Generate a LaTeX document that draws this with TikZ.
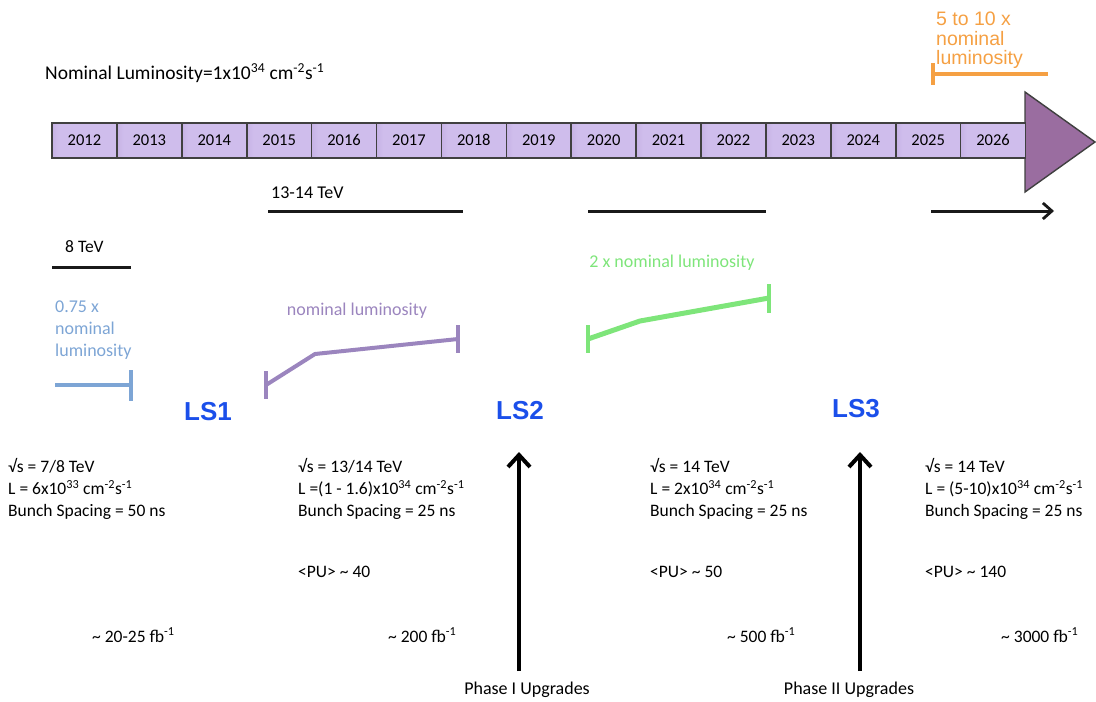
\documentclass[tikz,border=0pt]{standalone}
\usepackage{fontspec}
\setmainfont{Carlito}
\newfontfamily\arialfont{Liberation Sans}
\usetikzlibrary{arrows.meta}

\definecolor{boxlight}{HTML}{CFBDEC}
\definecolor{boxdark}{HTML}{9C7EC2}
\definecolor{headfill}{HTML}{9A6DA0}
\definecolor{orangelum}{HTML}{F5A043}
\definecolor{bluelum}{HTML}{7DA5D5}
\definecolor{purplelum}{HTML}{9B85BE}
\definecolor{greenlum}{HTML}{7EE57A}
\definecolor{lsblue}{HTML}{1B4FEA}

\pgfdeclarehorizontalshading{yearshade}{100bp}{color(0bp)=(boxdark); color(30bp)=(boxlight); color(100bp)=(boxlight)}

\tikzset{
  yearbox/.style={draw=black!75, line width=1.6pt, shading=yearshade,
    minimum width=64.9pt, minimum height=35pt, inner sep=0pt, outer sep=0pt,
    text height=10.6pt, text depth=0pt,
    anchor=west, font=\fontsize{16.5}{18}\selectfont},
  info/.style={anchor=north west, align=left, inner sep=0pt,
    font=\fontsize{17.5}{22}\selectfont},
  plain/.style={inner sep=0pt, font=\fontsize{17.5}{22}\selectfont},
  lslabel/.style={inner sep=0pt, text=lsblue, font=\arialfont\bfseries\fontsize{26}{30}\selectfont},
  lumlabel/.style={inner sep=0pt, align=left, font=\fontsize{18}{22}\selectfont},
  energy/.style={line width=3pt, black!90},
  lumbar/.style={line width=4pt, line join=round},
  upgrade/.style={line width=4.5pt, -{Straight Barb[length=12pt,width=22pt,line width=4pt]}},
}

\begin{document}
\begin{tikzpicture}[x=1pt,y=-1pt]
\useasboundingbox (0,0) rectangle (1096,702);

% headline
\node[plain, anchor=west, font=\fontsize{19.5}{22}\selectfont] (nominal) at (45,73)
  {Nominal Luminosity=1x10\textsuperscript{34} cm\textsuperscript{-2}s\textsuperscript{-1}};

% timeline arrow head
\draw[draw=black!75, line width=1.4pt, fill=headfill] (1025,92) -- (1095,142) -- (1025,192) -- cycle;

% year boxes
\foreach \yr [count=\i from 0] in {2012,...,2026} {
  \node[yearbox] (y\yr) at ({52+64.9*\i},140.5) {\yr};
}

% upper-right 5-10x nominal luminosity
\node[lumlabel, anchor=north west, text=orangelum, font=\arialfont\fontsize{19.5}{19.5}\selectfont] (lum510) at (936,12)
  {5 to 10 x\\nominal\\luminosity};
\draw[lumbar, orangelum] (933,74) -- (1048,74);
\draw[lumbar, orangelum] (933,63) -- (933,85);

% beam energy lines
\node[plain, anchor=west, font=\fontsize{18}{20}\selectfont] (e1314) at (271,193) {13-14 TeV};
\draw[energy] (268,211) -- (463,211);
\draw[energy] (588,211) -- (766,211);
\draw[energy, -{Straight Barb[length=9pt,width=16pt,line width=2.8pt]}] (931,211) -- (1054,211);
\node[plain, anchor=west, font=\fontsize{17.5}{20}\selectfont] (e8) at (65,247) {8 TeV};
\draw[energy] (52,267) -- (131,267);

% 0.75x nominal luminosity
\node[lumlabel, anchor=north west, text=bluelum] (lum075) at (55,301)
  {0.75 x\\nominal\\luminosity};
\draw[lumbar, bluelum] (55,385) -- (131,385);
\draw[lumbar, bluelum] (131,370) -- (131,401);

% nominal luminosity
\node[lumlabel, text=purplelum] (lum1) at (357,311) {nominal luminosity};
\draw[lumbar, purplelum] (266,385) -- (315,354) -- (458,339);
\draw[lumbar, purplelum] (266,371) -- (266,399);
\draw[lumbar, purplelum] (458,325) -- (458,353);

% 2x nominal luminosity
\node[lumlabel, text=greenlum] (lum2) at (672,263) {2 x nominal luminosity};
\draw[lumbar, greenlum, line width=5pt] (588,339) -- (640,321) -- (769,298);
\draw[lumbar, greenlum] (588,325) -- (588,353);
\draw[lumbar, greenlum] (769,284) -- (769,313);

% long shutdowns
\node[lslabel] (ls1) at (208,412) {LS1};
\node[lslabel] (ls2) at (520,411) {LS2};
\node[lslabel] (ls3) at (856,409) {LS3};

% run parameters
\node[info] (run1) at (8,458)
  {√s = 7/8 TeV\\L = 6x10\textsuperscript{33} cm\textsuperscript{-2}s\textsuperscript{-1}\\Bunch Spacing = 50 ns};
\node[info] (run2) at (298,458)
  {√s = 13/14 TeV\\L =(1 - 1.6)x10\textsuperscript{34} cm\textsuperscript{-2}s\textsuperscript{-1}\\Bunch Spacing = 25 ns};
\node[info] (run3) at (650,458)
  {√s = 14 TeV\\L = 2x10\textsuperscript{34} cm\textsuperscript{-2}s\textsuperscript{-1}\\Bunch Spacing = 25 ns};
\node[info] (run4) at (925,458)
  {√s = 14 TeV\\L = (5-10)x10\textsuperscript{34} cm\textsuperscript{-2}s\textsuperscript{-1}\\Bunch Spacing = 25 ns};

% pile-up
\node[plain, anchor=west] (pu2) at (298,572) {<PU> \textasciitilde{} 40};
\node[plain, anchor=west] (pu3) at (650,572) {<PU> \textasciitilde{} 50};
\node[plain, anchor=west] (pu4) at (925,572) {<PU> \textasciitilde{} 140};

% integrated luminosity
\node[plain, anchor=west] (int1) at (92,635) {\textasciitilde{} 20-25 fb\textsuperscript{-1}};
\node[plain, anchor=west] (int2) at (388,635) {\textasciitilde{} 200 fb\textsuperscript{-1}};
\node[plain, anchor=west] (int3) at (727,635) {\textasciitilde{} 500 fb\textsuperscript{-1}};
\node[plain, anchor=west] (int4) at (1001,635) {\textasciitilde{} 3000 fb\textsuperscript{-1}};

% upgrades
\node[plain, font=\fontsize{18}{22}\selectfont] (ph1) at (527,690) {Phase I Upgrades};
\node[plain, font=\fontsize{18}{22}\selectfont] (ph2) at (849,690) {Phase II Upgrades};
\coordinate (ph1top) at (519,452);
\coordinate (ph2top) at (860,452);
\draw[upgrade] (ph1top |- 0,671) -- (ph1top);
\draw[upgrade] (ph2top |- 0,671) -- (ph2top);
\end{tikzpicture}
\end{document}
